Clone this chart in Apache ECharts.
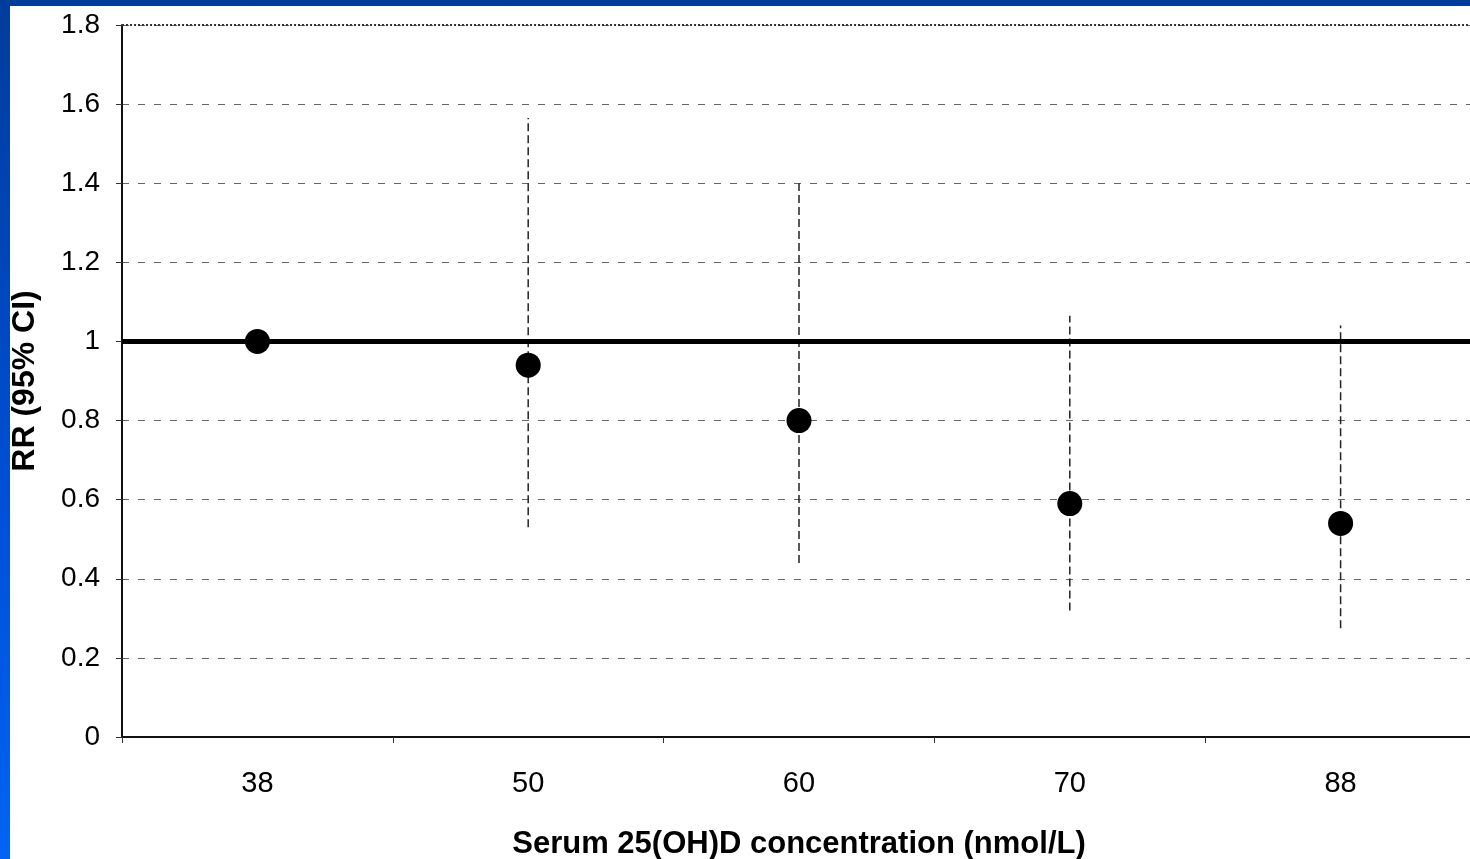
<!DOCTYPE html>
<html>
<head>
<meta charset="utf-8">
<script src="https://cdn.jsdelivr.net/npm/echarts@6/dist/echarts.min.js"></script>
<style>
  html, body { margin: 0; padding: 0; width: 1470px; height: 859px; overflow: hidden; }
  body { background: linear-gradient(180deg, #003c9c 0%, #0050d8 60%, #0064f4 100%); position: relative; }
  #chart { position: absolute; left: 10px; top: 6px; width: 1460px; height: 853px; background: #fff; }
</style>
</head>
<body>
<div id="chart"></div>
<script>
// Serum 25(OH)D categories and relative risk estimates
const categories = ['38', '50', '60', '70', '88'];
const rr = [1.0, 0.94, 0.8, 0.59, 0.54];
const ciLow = [null, 0.53, 0.44, 0.32, 0.275];
const ciHigh = [null, 1.565, 1.40, 1.065, 1.04];
const yTicks = [0, 0.2, 0.4, 0.6, 0.8, 1, 1.2, 1.4, 1.6, 1.8];

const font = '"Liberation Sans", Arial, sans-serif';
const chart = echarts.init(document.getElementById('chart'));

const ciData = categories.map((c, i) => [i, ciLow[i], ciHigh[i]]).filter(d => d[1] != null);

const option = {
  animation: false,
  grid: { left: 112, right: -6, top: 19, bottom: 122, containLabel: false, outerBoundsMode: 'none' },
  xAxis: {
    type: 'category',
    data: categories,
    boundaryGap: true,
    name: 'Serum 25(OH)D concentration (nmol/L)',
    nameLocation: 'middle',
    nameGap: 92,
    nameTextStyle: { fontFamily: font, fontSize: 31, fontWeight: 'bold', color: '#000' },
    axisLine: { lineStyle: { color: '#111', width: 2 } },
    axisTick: { show: true, length: 6, lineStyle: { color: '#333' } },
    axisLabel: { fontFamily: font, fontSize: 29, color: '#000', margin: 32 },
    splitLine: { show: false }
  },
  yAxis: {
    type: 'value',
    min: 0,
    max: 1.8,
    interval: 0.2,
    name: 'RR (95% CI)',
    nameLocation: 'middle',
    nameGap: 81,
    nameTextStyle: { fontFamily: font, fontSize: 32, fontWeight: 'bold', color: '#000' },
    axisLine: { show: true, lineStyle: { color: '#111', width: 2 } },
    axisTick: { show: true, length: 6, lineStyle: { color: '#333' } },
    axisLabel: {
      fontFamily: font, fontSize: 28, color: '#000', margin: 22,
      formatter: v => {
        const t = yTicks.find(k => Math.abs(k - v) < 1e-6);
        return t === undefined ? '' : String(t);
      }
    },
    splitLine: { show: true, lineStyle: { color: '#666', width: 1.2, type: [7, 9] } }
  },
  series: [
    {
      type: 'custom',
      name: 'CI',
      data: ciData,
      z: 2,
      renderItem: (params, api) => {
        const lo = api.coord([api.value(0), api.value(1)]);
        const hi = api.coord([api.value(0), api.value(2)]);
        return {
          type: 'line',
          shape: { x1: lo[0], y1: lo[1], x2: hi[0], y2: hi[1] },
          style: { stroke: '#222', lineWidth: 1.5, lineDash: [8, 4] }
        };
      }
    },
    {
      type: 'scatter',
      name: 'RR',
      data: rr,
      symbol: 'circle',
      symbolSize: 25,
      z: 4,
      itemStyle: { color: '#000', opacity: 1 },
      markLine: {
        silent: true,
        symbol: 'none',
        label: { show: false },
        data: [
          { yAxis: 1, lineStyle: { color: '#000', width: 5, type: 'solid' } },
          { yAxis: 1.8, lineStyle: { color: '#333', width: 2, type: [2, 2] } }
        ]
      }
    }
  ]
};

chart.setOption(option);
</script>
</body>
</html>
